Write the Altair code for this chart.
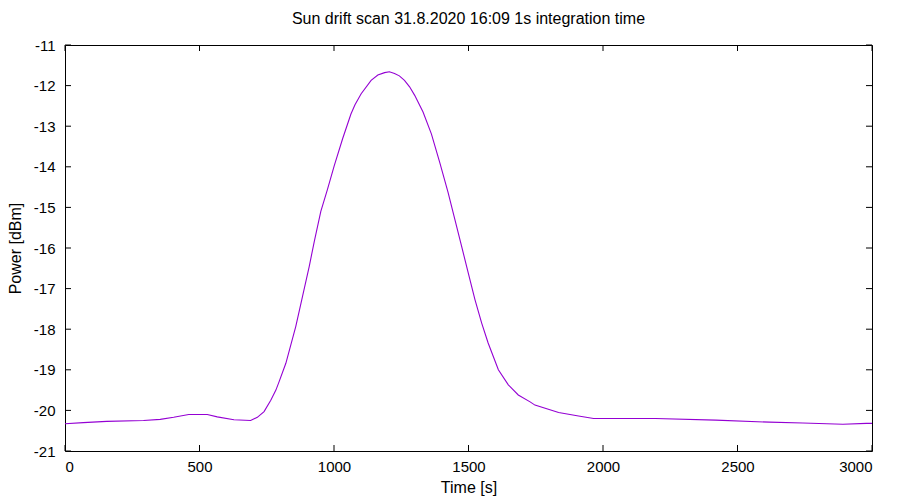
import altair as alt
import pandas as pd

time_s = [0, 68, 155, 292, 354, 404, 460, 529, 566, 628, 690, 715, 740, 765, 784, 796,
          821, 858, 883, 908, 927, 951, 976, 1001, 1032, 1063, 1078, 1101, 1138, 1163, 1188,
          1206, 1225, 1243, 1262, 1281, 1300, 1331, 1362, 1393, 1424, 1449, 1474, 1499, 1524,
          1549, 1573, 1611, 1648, 1685, 1729, 1747, 1835, 1909, 1965, 2195, 2419, 2618, 2743,
          2892, 2979, 3000]
power_dbm = [-20.33, -20.30, -20.27, -20.25, -20.22, -20.17, -20.10, -20.10, -20.16, -20.23,
             -20.25, -20.17, -20.03, -19.75, -19.50, -19.29, -18.84, -17.93, -17.19, -16.45,
             -15.83, -15.10, -14.55, -13.97, -13.31, -12.70, -12.47, -12.20, -11.87, -11.74,
             -11.68, -11.66, -11.70, -11.76, -11.87, -12.03, -12.24, -12.65, -13.19, -13.89,
             -14.63, -15.29, -15.95, -16.61, -17.27, -17.85, -18.34, -19.00, -19.37, -19.62,
             -19.79, -19.87, -20.05, -20.14, -20.20, -20.20, -20.24, -20.29, -20.31, -20.34,
             -20.32, -20.32]

x_ticks = [0, 500, 1000, 1500, 2000, 2500, 3000]
y_ticks = [-21, -20, -19, -18, -17, -16, -15, -14, -13, -12, -11]

W, H = 807, 406
FONT = "Liberation Sans"
FS = 15
TFS = 16
TL = 6

df = pd.DataFrame({"t": time_s, "p": power_dbm})
dfx = pd.DataFrame({"t": x_ticks})
dfy = pd.DataFrame({"p": y_ticks})

xscale = alt.Scale(domain=[0, 3000], nice=False)
yscale = alt.Scale(domain=[-21, -11], nice=False)

xaxis = alt.Axis(values=x_ticks, title="Time [s]", tickSize=0, domain=False,
                 grid=False, labelPadding=8, labelFontSize=FS, labelFont=FONT,
                 labelColor="black", labelExpr="'' + datum.value",
                 titleFont=FONT, titleFontSize=TFS,
                 titleFontWeight="normal", titleColor="black",
                 titleX=W / 2, titleY=36, titleBaseline="middle")
yaxis = alt.Axis(values=y_ticks, title="Power [dBm]", tickSize=0, domain=False,
                 grid=False, labelPadding=10, labelFontSize=FS, labelFont=FONT,
                 labelColor="black", labelExpr="'' + datum.value",
                 titleFont=FONT, titleFontSize=TFS,
                 titleFontWeight="normal", titleColor="black",
                 titleX=-50, titleY=H / 2, titleBaseline="middle",
                 titleAlign="center", titleAngle=270)

line = alt.Chart(df).mark_line(color="#9400D3", strokeWidth=1.1).encode(
    x=alt.X("t:Q", scale=xscale, axis=xaxis),
    y=alt.Y("p:Q", scale=yscale, axis=yaxis),
)

xb = alt.Chart(dfx).mark_rule(color="black", strokeWidth=1).encode(
    x=alt.X("t:Q", scale=xscale, axis=xaxis), y=alt.value(H), y2=alt.value(H - TL))
xt = alt.Chart(dfx).mark_rule(color="black", strokeWidth=1).encode(
    x=alt.X("t:Q", scale=xscale, axis=xaxis), y=alt.value(0), y2=alt.value(TL))
yl = alt.Chart(dfy).mark_rule(color="black", strokeWidth=1).encode(
    y=alt.Y("p:Q", scale=yscale, axis=yaxis), x=alt.value(0), x2=alt.value(TL))
yr = alt.Chart(dfy).mark_rule(color="black", strokeWidth=1).encode(
    y=alt.Y("p:Q", scale=yscale, axis=yaxis), x=alt.value(W), x2=alt.value(W - TL))

chart = alt.layer(line, xb, xt, yl, yr).properties(
    width=W, height=H,
    title=alt.TitleParams("Sun drift scan 31.8.2020 16:09 1s integration time",
                          font=FONT, fontSize=TFS, fontWeight="normal", color="black",
                          anchor="middle", baseline="alphabetic", offset=-2),
    autosize=alt.AutoSizeParams(type="none"),
    padding={"left": 57, "top": 37, "right": 20, "bottom": 46},
).configure_view(stroke="black", strokeWidth=1)

chart.save("out.html", embed_options={"renderer": "svg", "actions": False})
